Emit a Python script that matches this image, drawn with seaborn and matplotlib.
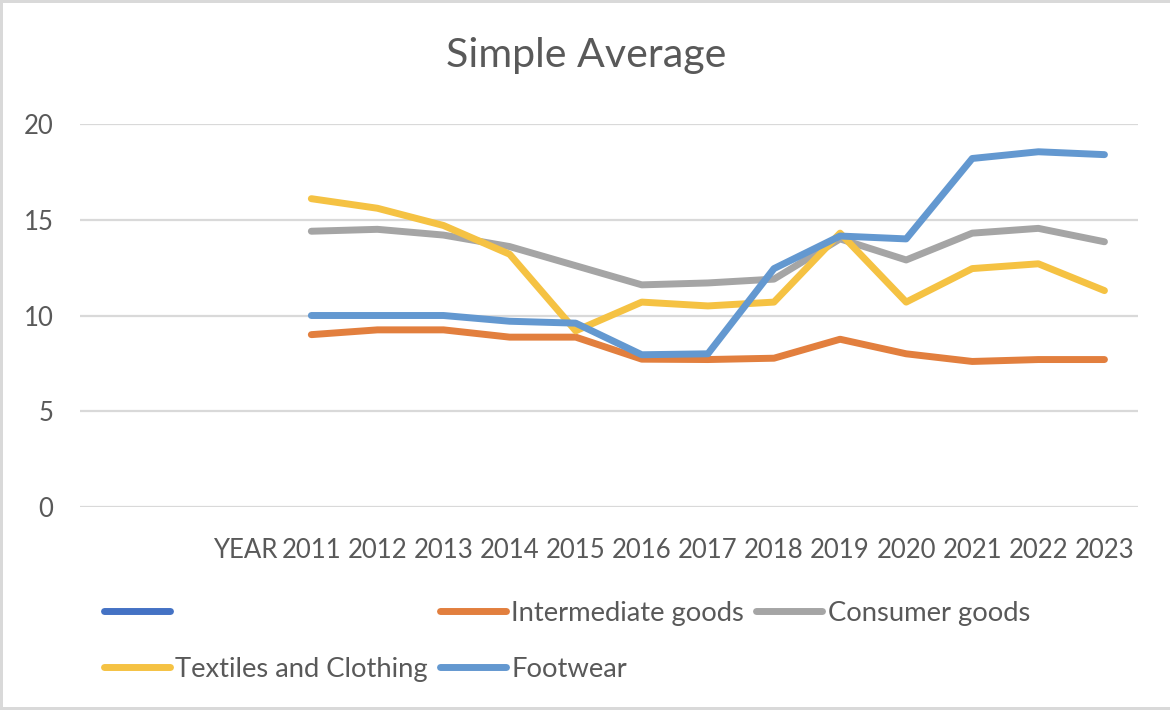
import numpy as np
import pandas as pd
import matplotlib
matplotlib.use("Agg")
import matplotlib.pyplot as plt
from matplotlib.lines import Line2D
from matplotlib.patches import Rectangle
import seaborn as sns

# ---- data ----
categories = ["", " ", "YEAR", "2011", "2012", "2013", "2014", "2015", "2016",
              "2017", "2018", "2019", "2020", "2021", "2022", "2023"]
years = ["2011", "2012", "2013", "2014", "2015", "2016", "2017", "2018",
         "2019", "2020", "2021", "2022", "2023"]
intermediate_goods = [9.0, 9.25, 9.25, 8.87, 8.87, 7.72, 7.7, 7.77, 8.76, 8.0, 7.6, 7.7, 7.7]
consumer_goods = [14.4, 14.5, 14.2, 13.6, 12.6, 11.6, 11.7, 11.9, 14.0, 12.9, 14.3, 14.55, 13.85]
textiles_clothing = [16.1, 15.6, 14.7, 13.2, 9.2, 10.7, 10.5, 10.7, 14.3, 10.7, 12.45, 12.7, 11.3]
footwear = [10.0, 10.0, 10.0, 9.7, 9.6, 7.95, 8.0, 12.45, 14.15, 14.0, 18.2, 18.55, 18.4]
series_names = ["", "Intermediate goods", "Consumer goods", "Textiles and Clothing", "Footwear"]
y_ticks = [0, 5, 10, 15, 20]
title = "Simple Average"

colors = ["#4472C4", "#E27F3E", "#A5A5A5", "#F5C243", "#6398D0"]

sns.set_theme(style="white")
plt.rcParams["font.family"] = ["Lato", "DejaVu Sans"]
TXT = "#595959"

fig = plt.figure(figsize=(11.7, 7.1), dpi=100)
W, H = 1170, 710
ax = fig.add_axes([80 / W, 1 - 507 / H, (1137.5 - 80) / W, (507 - 124) / H])

pos = {c: i for i, c in enumerate(categories)}
rows = []
for name, vals in zip(series_names[1:], [intermediate_goods, consumer_goods, textiles_clothing, footwear]):
    for yr, v in zip(years, vals):
        rows.append({"x": pos[yr], "value": v, "series": name})
df = pd.DataFrame(rows)

for name, col in zip(series_names[1:], colors[1:]):
    sub = df[df["series"] == name]
    sns.lineplot(data=sub, x="x", y="value", color=col, linewidth=5, ax=ax,
                 solid_capstyle="round", solid_joinstyle="round", legend=False)

ax.set_xlim(-0.5, len(categories) - 0.5)
ax.set_ylim(0, 20)
ax.set_xticks(range(len(categories)))
ax.set_xticklabels(categories)
ax.set_yticks(y_ticks)
ax.set_yticklabels([str(t) for t in y_ticks])
ax.set_xlabel("")
ax.set_ylabel("")
ax.grid(axis="y", color="#D9D9D9", linewidth=1.6)
ax.grid(axis="x", visible=False)
for s in ax.spines.values():
    s.set_visible(False)
ax.tick_params(axis="both", length=0, labelsize=18.5, colors=TXT)
ax.tick_params(axis="y", pad=19)
ax.tick_params(axis="x", pad=22)
for lab in ax.get_xticklabels() + ax.get_yticklabels():
    lab.set_color(TXT)

fig.text(586 / W, 1 - 67 / H, title, ha="center", va="baseline", fontsize=29.6, color=TXT)

# legend (row-major as in the reference: blank, Intermediate, Consumer / Textiles, Footwear)
handles = [Line2D([], [], color=c, linewidth=5, solid_capstyle="round") for c in colors]
order = [0, 3, 1, 4, 2]
leg = fig.legend([handles[i] for i in order], [series_names[i] for i in order],
                 ncol=3, loc="upper left", bbox_to_anchor=(104 / W, 1 - 601 / H),
                 frameon=False, fontsize=19.7, handlelength=2.4, handletextpad=0.2,
                 columnspacing=0.45, labelspacing=1.12, borderpad=0, borderaxespad=0)
for t in leg.get_texts():
    t.set_color(TXT)

# chart-area border (left, top, bottom)
fig.patches.append(Rectangle((0, 0), 1.05, 1, transform=fig.transFigure, fill=False,
                             edgecolor="#D9D9D9", linewidth=4.3, zorder=10))

fig.savefig("out.png", dpi=100, facecolor="white")
